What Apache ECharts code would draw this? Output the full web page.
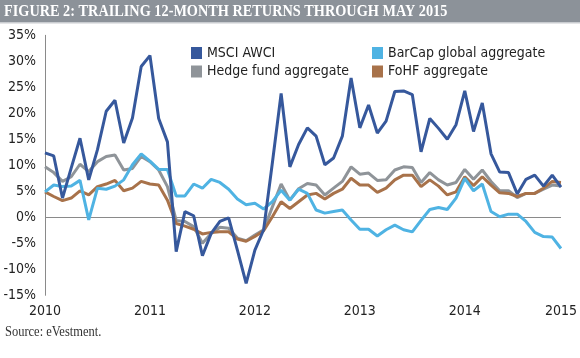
<!DOCTYPE html>
<html><head><meta charset="utf-8">
<script src="https://cdn.jsdelivr.net/npm/echarts@6/dist/echarts.min.js"></script>
<style>html,body{margin:0;padding:0;background:#fff}#c{width:580px;height:358px}</style>
</head><body><div id="c"></div>
<script>
const months = [
 '2010-06','2010-07','2010-08','2010-09','2010-10','2010-11','2010-12','2011-01','2011-02','2011-03','2011-04','2011-05',
 '2011-06','2011-07','2011-08','2011-09','2011-10','2011-11','2011-12','2012-01','2012-02','2012-03','2012-04','2012-05',
 '2012-06','2012-07','2012-08','2012-09','2012-10','2012-11','2012-12','2013-01','2013-02','2013-03','2013-04','2013-05',
 '2013-06','2013-07','2013-08','2013-09','2013-10','2013-11','2013-12','2014-01','2014-02','2014-03','2014-04','2014-05',
 '2014-06','2014-07','2014-08','2014-09','2014-10','2014-11','2014-12','2015-01','2015-02','2015-03','2015-04','2015-05'];
const tickLabels = {0:'2010', 12:'2011', 24:'2012', 36:'2013', 48:'2014', 59:'2015'};
const yTicks = [-15,-10,-5,0,5,10,15,20,25,30,35];

const msci = [12.4,11.8,3.7,9.5,15.2,7.2,13.0,20.4,22.5,14.3,19.1,29.0,31.1,19.0,14.5,-6.6,
 1.1,0.3,-7.4,-3.1,-0.8,-0.1,-6.3,-12.7,-6.3,-2.4,10.5,23.8,9.7,14.0,
 17.2,15.6,10.1,11.4,15.6,26.8,17.2,21.6,16.2,18.5,24.2,24.3,23.6,12.6,19.0,
 17.1,15.0,17.8,24.3,16.5,22.0,12.2,8.7,8.6,4.5,7.3,8.1,6.0,8.1,5.8];
const barcap = [4.9,6.2,5.9,6.0,7.1,-0.5,5.6,5.4,6.0,7.2,10.1,12.2,10.8,9.2,9.2,4.1,
 4.1,6.4,5.6,7.3,6.7,5.4,3.5,2.4,2.7,1.6,3.0,5.2,3.3,5.4,
 4.6,1.4,0.8,1.1,1.4,-0.5,-2.3,-2.3,-3.6,-2.4,-1.5,-2.4,-2.8,-0.6,1.5,
 1.9,1.5,3.7,7.5,5.1,6.4,1.1,0.1,0.6,0.6,-0.8,-2.9,-3.7,-3.8,-6.0];
const hedge = [9.7,8.6,6.9,7.8,10.2,8.8,10.7,11.7,12.0,9.1,9.4,11.7,10.7,9.1,5.9,-0.6,
 -0.8,-1.8,-5.0,-3.1,-1.9,-2.1,-4.0,-4.5,-3.4,-2.4,2.0,6.4,3.3,5.5,
 6.5,6.2,4.3,5.6,6.9,9.7,8.3,8.5,7.1,7.2,9.1,9.7,9.6,6.7,8.6,
 7.2,6.2,6.7,9.2,7.3,9.1,6.9,5.1,5.1,3.8,4.6,4.6,5.4,6.2,6.0];
const fohf = [4.9,4.0,3.2,3.7,5.1,4.3,5.9,6.4,7.1,5.1,5.6,6.9,6.4,6.2,3.3,-1.2,
 -1.7,-2.3,-3.2,-2.9,-2.8,-2.8,-4.2,-4.6,-3.7,-2.6,0.1,3.0,1.7,3.0,
 4.3,4.6,3.5,4.6,5.4,7.5,6.2,6.2,4.8,5.6,7.2,8.1,8.1,5.9,7.2,
 6.0,4.3,4.9,7.8,6.1,7.8,6.2,4.7,4.6,4.0,4.6,4.6,5.6,6.9,6.7];

const C = {msci:'#36589c', barcap:'#4fb3e3', hedge:'#8f9499', fohf:'#a8724a'};
const narrow = '"DejaVu Sans Condensed","Liberation Sans Narrow",sans-serif';

const chart = echarts.init(document.getElementById('c'), null, {renderer:'canvas'});
const splitColors = yTicks.map(v => v === 0 ? '#8a8a8a' : 'rgba(0,0,0,0)');
function line(name, data, color) {
  return {name, type:'line', data, symbol:'none', smooth:false,
    lineStyle:{color, width:3}, itemStyle:{color}, emphasis:{disabled:true}};
}
const legendText = {fontFamily:narrow, fontSize:14, color:'#222', lineHeight:17};
chart.setOption({
  animation:false,
  graphic:[
    {type:'rect', shape:{x:0,y:0,width:580,height:22}, style:{fill:'#8c9299'}},
    {type:'rect', shape:{x:0,y:22,width:580,height:1.5}, style:{fill:'#c9ccd0'}},
    {type:'text', x:4, y:12, scaleX:0.84, scaleY:1, originX:0, originY:0,
      style:{text:'FIGURE 2: TRAILING 12-MONTH RETURNS THROUGH MAY 2015', fill:'#ffffff',
      font:'bold 17px "Liberation Serif","DejaVu Serif",serif', textVerticalAlign:'middle', textAlign:'left'}},
    {type:'text', x:5, y:332, scaleX:0.86, originX:0, originY:0,
      style:{text:'Source: eVestment.', fill:'#333333',
      font:'14.5px "Liberation Serif","DejaVu Serif",serif', textVerticalAlign:'middle', textAlign:'left'}}
  ],
  grid:{left:45, right:15.7, top:35.3, bottom:62.7, containLabel:false},
  legend:[
    {data:['MSCI AWCI','Hedge fund aggregate'], orient:'vertical', left:191, top:44.5, icon:'rect',
      itemWidth:11, itemHeight:12, itemGap:1.5, selectedMode:false, padding:0, textStyle:legendText},
    {data:['BarCap global aggregate','FoHF aggregate'], orient:'vertical', left:372, top:44.5, icon:'rect',
      itemWidth:11, itemHeight:12, itemGap:1.5, selectedMode:false, padding:0, textStyle:legendText}
  ],
  xAxis:{type:'category', data:months, boundaryGap:false,
    axisLine:{show:false}, axisTick:{show:false}, splitLine:{show:false},
    axisLabel:{interval:(i)=> i in tickLabels, formatter:(v,i)=> tickLabels[i] || '',
      fontFamily:narrow, fontSize:14, color:'#222', margin:9, hideOverlap:false}},
  yAxis:{type:'value', min:-15, max:35, interval:5,
    axisLine:{show:true, lineStyle:{color:'#8a8a8a', width:1}}, axisTick:{show:false},
    splitLine:{show:true, lineStyle:{color:splitColors, width:1}},
    axisLabel:{formatter:'{value}%', fontFamily:narrow, fontSize:14, color:'#222', margin:9}},
  series:[
    line('Hedge fund aggregate', hedge, C.hedge),
    line('FoHF aggregate', fohf, C.fohf),
    line('BarCap global aggregate', barcap, C.barcap),
    line('MSCI AWCI', msci, C.msci)
  ]
});
</script></body></html>
